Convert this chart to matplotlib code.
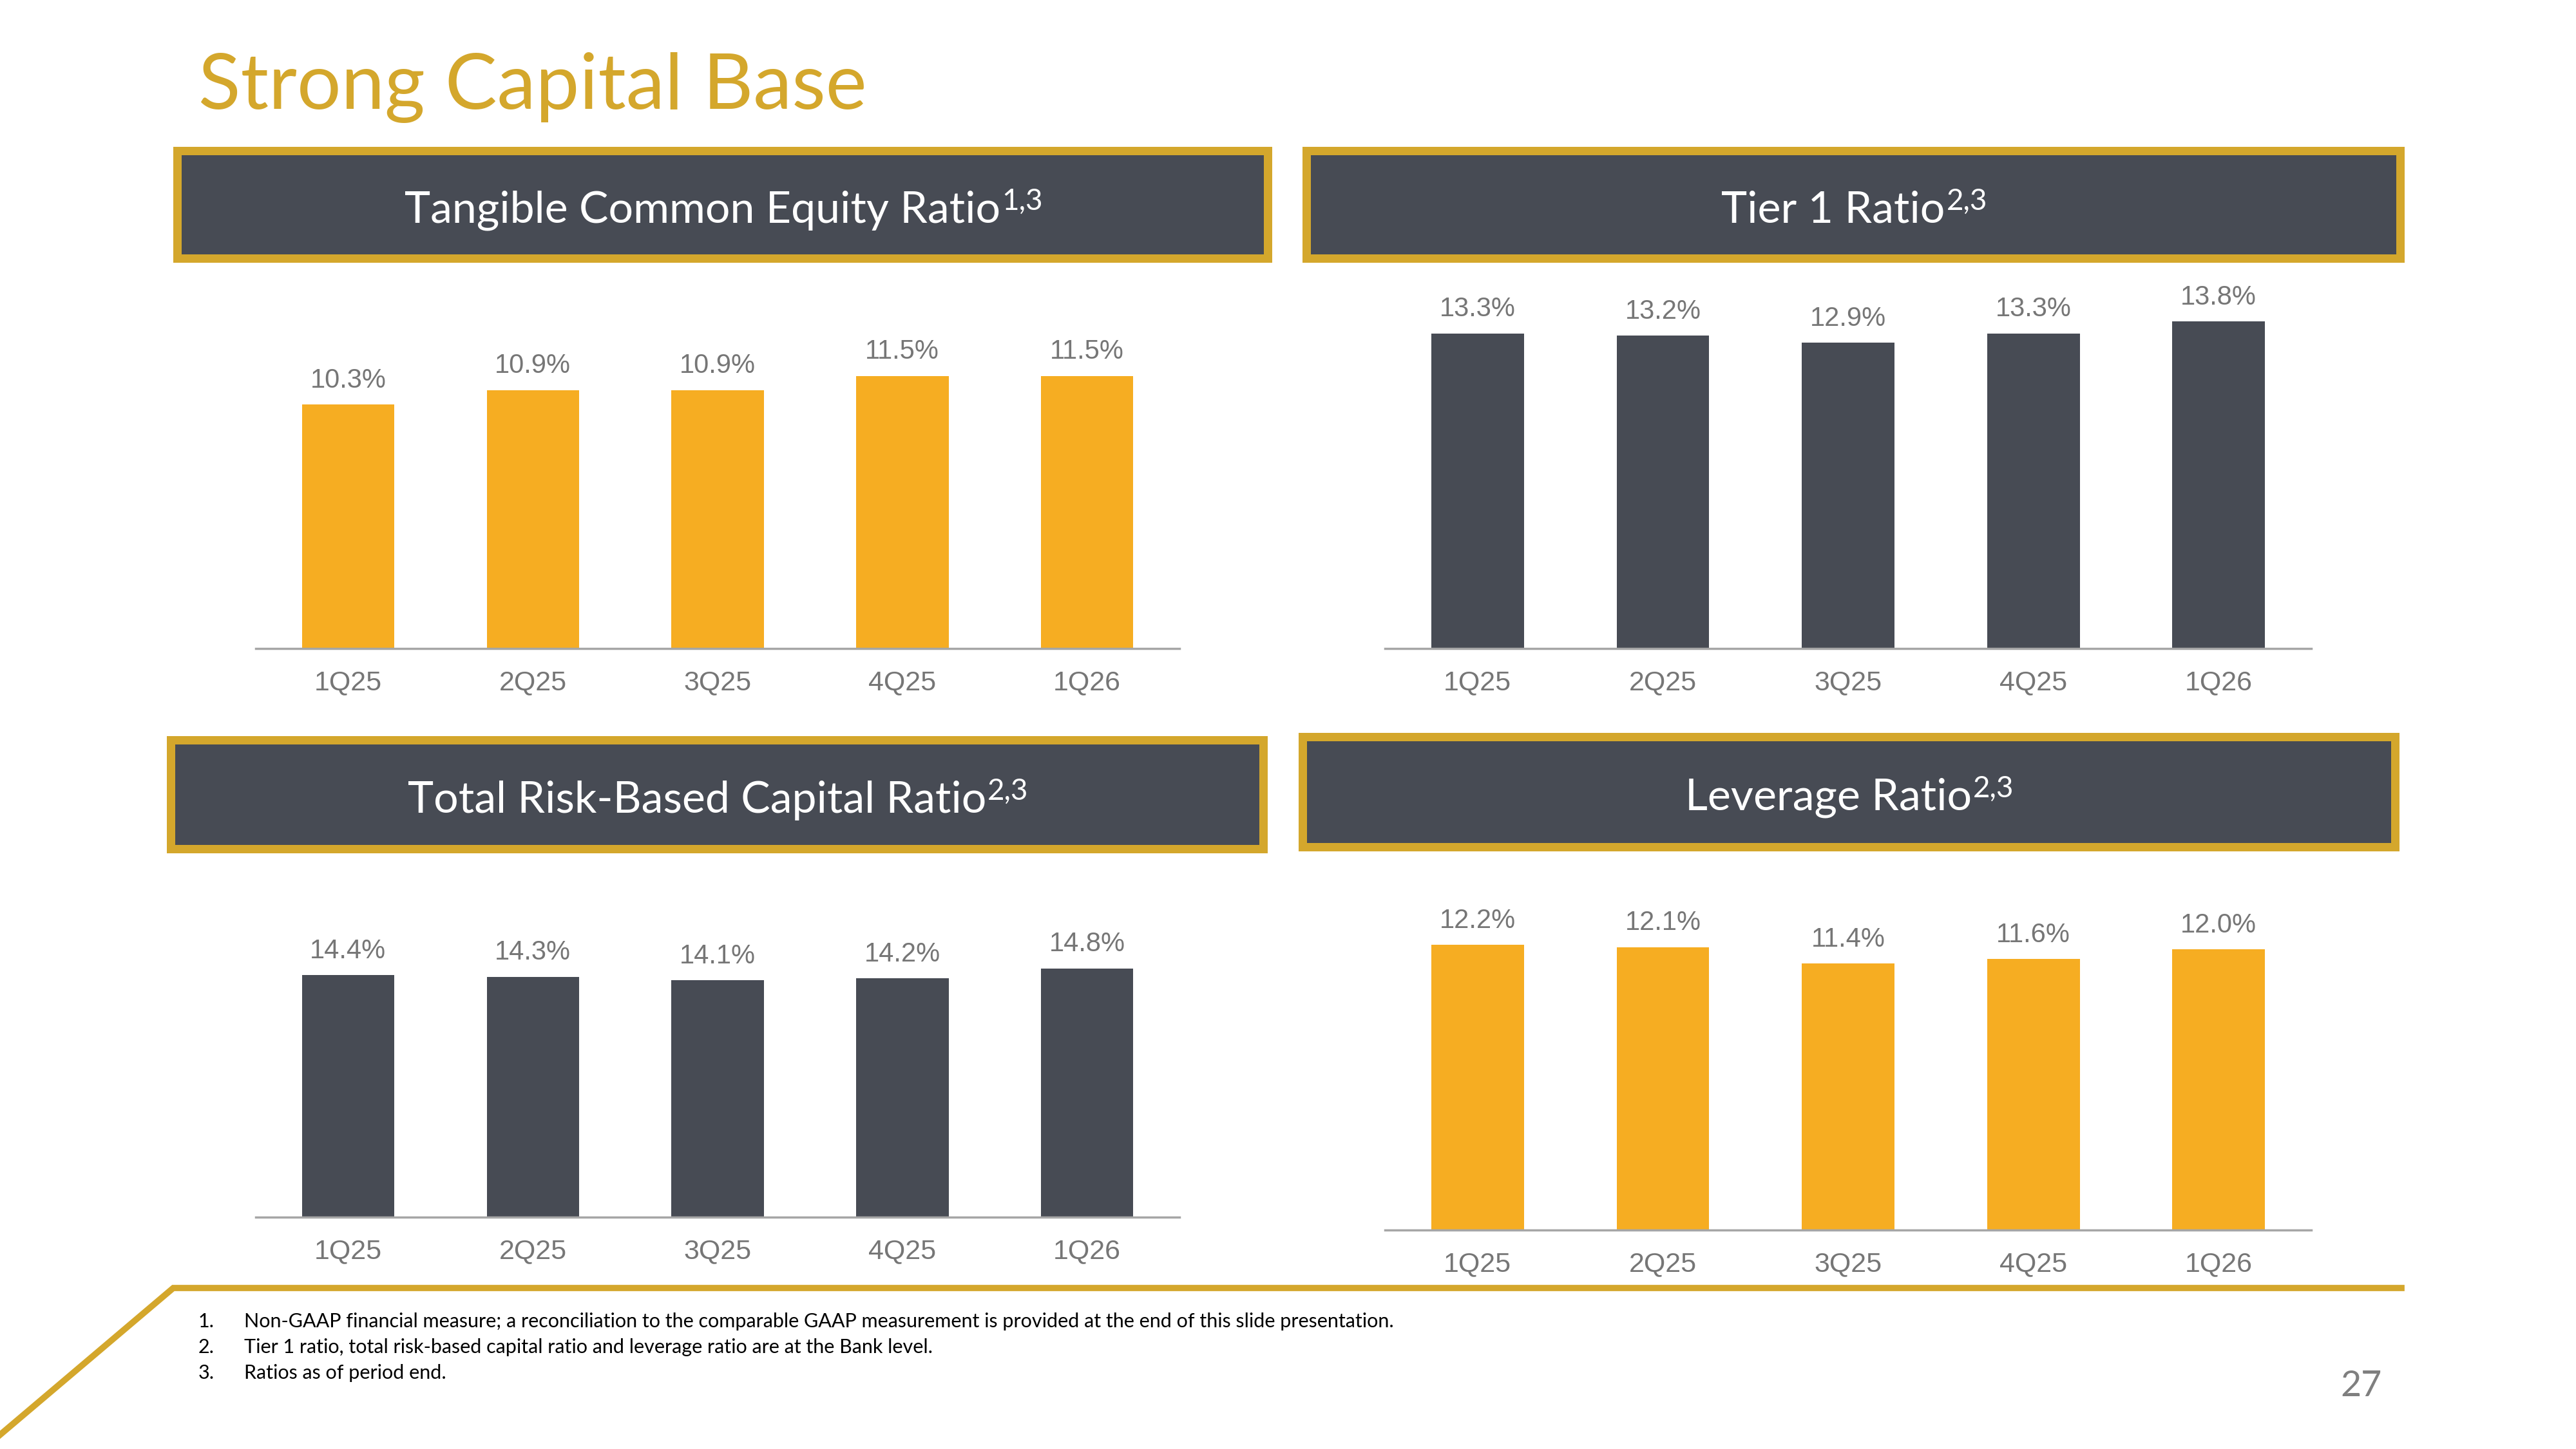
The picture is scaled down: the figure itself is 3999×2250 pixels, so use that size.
import matplotlib.pyplot as plt
from matplotlib.patches import Rectangle
from matplotlib.lines import Line2D

# Data
quarters = ['1Q25', '2Q25', '3Q25', '4Q25', '1Q26']
tce_ratio = [10.3, 10.9, 10.9, 11.5, 11.5]
tier1_ratio = [13.3, 13.2, 12.9, 13.3, 13.8]
total_rbc_ratio = [14.4, 14.3, 14.1, 14.2, 14.8]
leverage_ratio = [12.2, 12.1, 11.4, 11.6, 12.0]

panel_titles = ['Tangible Common Equity Ratio', 'Tier 1 Ratio',
                'Total Risk-Based Capital Ratio', 'Leverage Ratio']
panel_notes = ['1,3', '2,3', '2,3', '2,3']

footnotes = [
    'Non-GAAP financial measure; a reconciliation to the comparable GAAP measurement is provided at the end of this slide presentation.',
    'Tier 1 ratio, total risk-based capital ratio and leverage ratio are at the Bank level.',
    'Ratios as of period end.',
]

GOLD = '#D4A72C'
DARK = '#474B54'
ORANGE = '#F6AD22'
GREY = '#767676'
AXIS_GREY = '#A6A6A6'

plt.rcParams['font.family'] = ['Lato', 'DejaVu Sans']

W, H = 3999, 2250
fig = plt.figure(figsize=(W / 100, H / 100), dpi=100)
renderer = fig.canvas.get_renderer()


def fx(px):
    return px / W


def fy(py):
    return 1 - py / H


# Slide title
fig.text(fx(308), fy(169), 'Strong Capital Base', color=GOLD, fontsize=87,
         ha='left', va='baseline')

# panel layout in pixels: header box, axes extents, px per unit
panels = [
    dict(box=(269, 228, 1975, 408), ax=(397, 1831, 1007, 430), scale=36.8,
         values=tce_ratio, color=ORANGE),
    dict(box=(2022, 228, 3733, 408), ax=(2150, 3588, 1007, 430), scale=36.8,
         values=tier1_ratio, color=DARK),
    dict(box=(259, 1143, 1968, 1325), ax=(397, 1831, 1890, 1345), scale=26.1,
         values=total_rbc_ratio, color=DARK),
    dict(box=(2016, 1138, 3725, 1322), ax=(2150, 3588, 1910, 1345), scale=36.3,
         values=leverage_ratio, color=ORANGE),
]

border = 13
for p, title, note in zip(panels, panel_titles, panel_notes):
    x0, y0, x1, y1 = p['box']
    fig.add_artist(Rectangle((fx(x0), fy(y1)), (x1 - x0) / W, (y1 - y0) / H,
                             transform=fig.transFigure, color=GOLD, lw=0))
    fig.add_artist(Rectangle((fx(x0 + border), fy(y1 - border)),
                             (x1 - x0 - 2 * border) / W, (y1 - y0 - 2 * border) / H,
                             transform=fig.transFigure, color=DARK, lw=0))
    # header text + superscript note, centred together
    base_y = fy((y0 + y1) / 2 + 28)
    t_main = fig.text(0, base_y, title, color='white', fontsize=49,
                      ha='left', va='baseline')
    t_sup = fig.text(0, base_y + 20 / H, note, color='white', fontsize=33,
                     ha='left', va='baseline')
    w_main = t_main.get_window_extent(renderer).width
    w_sup = t_sup.get_window_extent(renderer).width
    start = (x0 + x1) / 2 - (w_main + w_sup) / 2
    t_main.set_x(fx(start))
    t_sup.set_x(fx(start + w_main + 2))

    left, right, base, top = p['ax']
    ax = fig.add_axes([fx(left), fy(base), (right - left) / W, (base - top) / H])
    x = range(len(quarters))
    ax.bar(x, p['values'], width=0.5, color=p['color'])
    ax.set_xlim(-0.5, len(quarters) - 0.5)
    ax.set_ylim(0, (base - top) / p['scale'])
    for i, v in enumerate(p['values']):
        ax.annotate(f'{v:.1f}%', (i, v), xytext=(0, 19), textcoords='offset points',
                    ha='center', va='baseline', fontsize=30, color=GREY,
                    family='Liberation Sans')
    ax.set_xticks(list(x))
    ax.set_xticklabels(quarters, fontsize=31, color=GREY, family='Liberation Sans')
    ax.tick_params(axis='x', length=0, pad=24)
    ax.set_yticks([])
    for s in ['top', 'right', 'left']:
        ax.spines[s].set_visible(False)
    ax.spines['bottom'].set_color(AXIS_GREY)
    ax.spines['bottom'].set_linewidth(2.5)

# Gold rule with angled corner at the bottom
fig.add_artist(Line2D([fx(3728), fx(269), fx(0)], [fy(2000), fy(2000), fy(2228)],
                      transform=fig.transFigure, color=GOLD, lw=7,
                      solid_joinstyle='miter'))

# Footnotes
for i, note in enumerate(footnotes):
    y = fy(2052 + i * 40)
    fig.text(fx(308), y, f'{i + 1}.', fontsize=22, color='black', va='center')
    fig.text(fx(379), y, note, fontsize=22, color='black', va='center')

# Page number
fig.text(fx(3666), fy(2153), '27', fontsize=40, color='#7F7F7F',
         ha='center', va='center')

fig.savefig('out.png', dpi=100)
